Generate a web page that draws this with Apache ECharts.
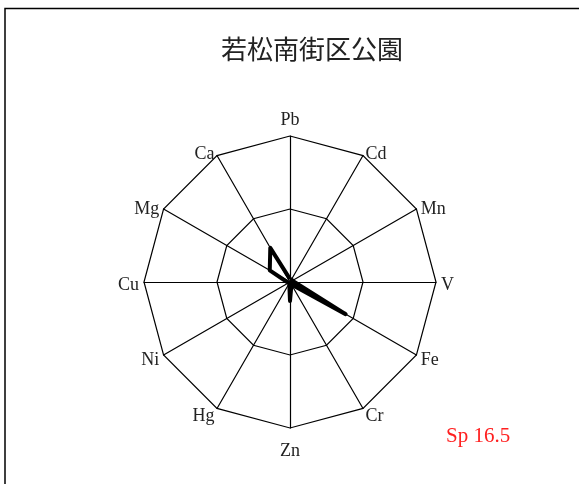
<!DOCTYPE html>
<html><head><meta charset="utf-8">
<script src="https://cdn.jsdelivr.net/npm/echarts@6/dist/echarts.min.js"></script>
<style>html,body{margin:0;padding:0;background:#fff}#c{width:579px;height:484px}</style>
</head><body><div id="c"></div>
<script>
// clockwise from top
var elements = ['Pb','Cd','Mn','V','Fe','Cr','Zn','Hg','Ni','Cu','Mg','Ca'];
var values   = [0.02,0.02,0.02,0.03,0.44,0.02,0.13,0.01,0.01,0.02,0.16,0.27];
var titleText = '若松南街区公園';
var noteText = 'Sp 16.5';
var maxValue = 1;

// ECharts lays indicators counter-clockwise; reorder to appear clockwise
function ccw(arr){ return [arr[0]].concat(arr.slice(1).reverse()); }
var ind = ccw(elements).map(function(n){ return {name:n, max:maxValue, min:0}; });
var vals = ccw(values);

var chart = echarts.init(document.getElementById('c'));
chart.setOption({
  animation:false,
  backgroundColor:'#fff',
  title:{text:titleText, left:307, top:31, textAlign:'center',
    textStyle:{fontFamily:'Noto Sans CJK JP', fontWeight:'normal', fontSize:26, color:'#222'}},
  graphic:[
    {type:'polyline', shape:{points:[[5,490],[5,8.5],[590,8.5]]}, style:{stroke:'#000', lineWidth:1.5, fill:null}},
    {type:'text', left:446, top:426, style:{text:noteText, fill:'#ff2020', fontFamily:'Liberation Serif', fontSize:21}}
  ],
  radar:{
    center:[290,282], radius:146, startAngle:90, splitNumber:2, shape:'polygon',
    indicator:ind, nameGap:5,
    axisName:{color:'#222', fontFamily:'Liberation Serif', fontSize:18,
      formatter:function(n){
        if(n==='Pb') return '{t|'+n+'}';
        if(n==='Zn') return '{b|'+n+'}';
        return '{m|'+n+'}';
      },
      rich:{
        t:{fontFamily:'Liberation Serif', fontSize:18, color:'#222', padding:[0,0,2,0]},
        b:{fontFamily:'Liberation Serif', fontSize:18, color:'#222', padding:[9,0,0,0]},
        m:{fontFamily:'Liberation Serif', fontSize:18, color:'#222', padding:[6,0,0,0]}
      }
    },
    axisLine:{lineStyle:{color:'#000', width:1.2}},
    splitLine:{lineStyle:{color:'#000', width:1.2}},
    splitArea:{show:false},
    axisTick:{show:false}, axisLabel:{show:false}
  },
  series:[{type:'radar', symbol:'none',
    lineStyle:{color:'#000', width:4},
    data:[{value:vals}]}]
});
</script></body></html>
